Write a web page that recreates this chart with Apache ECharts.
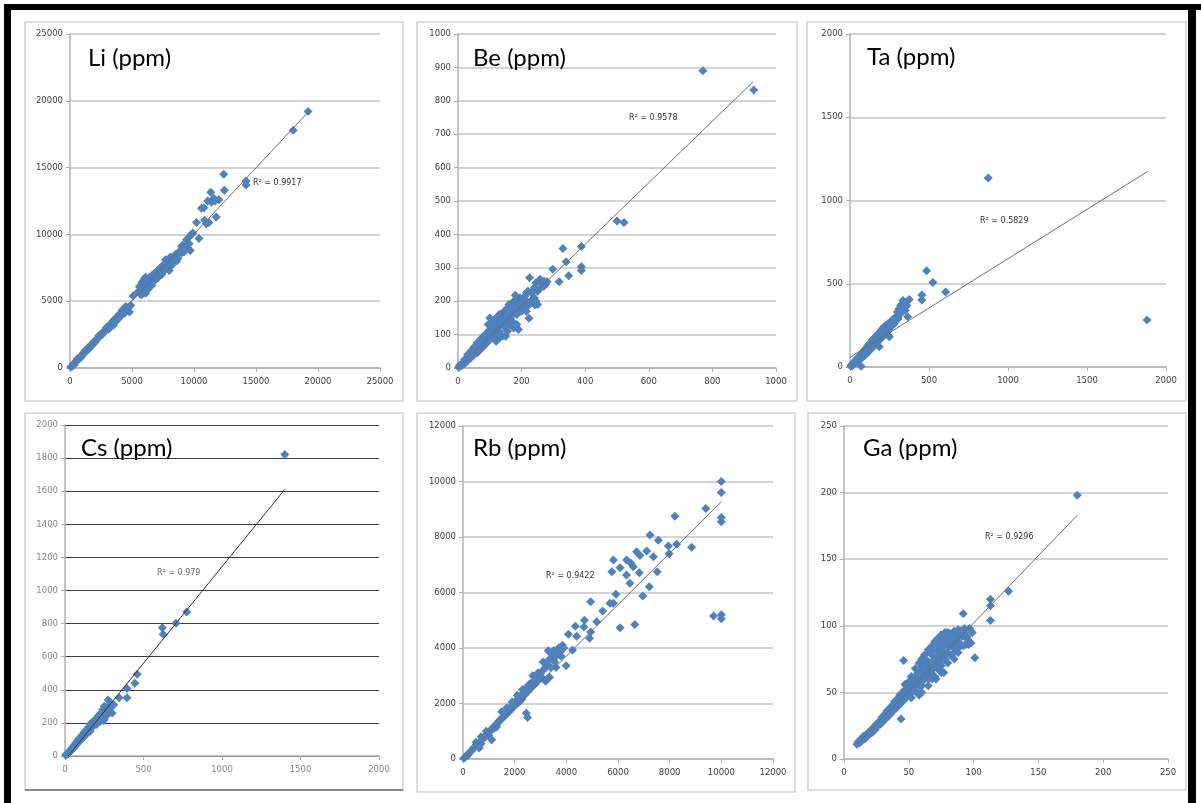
<!DOCTYPE html>
<html>
<head>
<meta charset="utf-8">
<script src="https://cdn.jsdelivr.net/npm/echarts@6/dist/echarts.min.js"></script>
<style>
  html, body { margin: 0; padding: 0; background: #fff; }
  #chart { width: 1201px; height: 803px; }
</style>
</head>
<body>
<div id="chart"></div>
<script>
const liPoints = [[50,80],[150,120],[250,300],[400,350],[500,550],[650,600],[800,850],[950,900],[1100,1150],[1250,1200],[1400,1450],[1500,1400],[1650,1700],[1800,1750],[1950,2000],[2100,2050],[2250,2200],[2400,2350],[2550,2600],[2700,2650],[2850,2800],[3000,3050],[3100,2900],[3250,3300],[3400,3350],[3500,3200],[3600,3650],[3700,3500],[3800,3850],[3900,3700],[4000,4050],[4100,3900],[4300,4400],[4500,4600],[4700,4500],[4800,4200],[4900,4700],[5100,5400],
  [300,200],[600,700],[900,800],[1200,1300],[1500,1550],[1700,1600],[2000,1900],[2300,2400],[2600,2500],[2900,3000],[3200,3100],[3500,3550],[3800,3600],[4200,4300],[4400,4100],[4600,4500],
  [5500,5700],[5600,6100],[5700,5500],[5800,6400],[5900,6000],[6000,6700],[6100,5600],[6200,6500],[6300,5900],[6400,6800],[6500,6300],[6600,6900],[6700,6500],[6800,7100],[6900,6600],[7000,7200],[7100,6800],[7200,7000],[7300,7500],[7400,7200],[7500,7700],[7600,7300],[7700,8100],[7800,7500],[7900,7900],[8000,7300],[8100,8300],[8200,7700],[8400,8000],[8500,8500],[8700,8200],
  [5600,5800],[5800,5500],[6000,6200],[6200,6000],[6400,6600],[6600,6200],[6800,6800],[7000,6700],[7200,7400],[7400,7000],[7600,7700],[7800,7800],[8000,8100],[8200,8200],[8400,8400],[8600,8000],[8800,8700],[9000,9100],[9200,8700],[9500,9000],[9600,9800],[6500,6600],[6900,7000],[7300,7300],[7700,7400],[5900,6500],[6100,6800],[5700,6000],
  [9000,8600],[9100,9200],[9300,8900],[9400,9600],[9600,9300],[9700,8800],[9800,10000],[9900,10100],[10200,10900],[10400,9700],[10600,11950],[10800,12000],[10850,11050],[11000,10800],[11100,12500],[11200,10900],[11350,13150],[11400,12400],[11600,12700],[11700,12500],[11800,11300],[12000,12600],[12400,14500],[12450,13300],[14200,14000],[14200,13700],[18000,17800],[19200,19200]];
const liTrend = [[0,100],[19350,19300]];

const bePoints = [[2,2],[5,8],[10,6],[15,15],[20,12],[25,25],[30,22],[35,35],[40,30],[45,48],[50,40],[55,55],[60,45],[65,70],[70,60],[75,80],[80,65],[85,90],[90,75],[95,110],[100,85],[105,120],[110,95],[115,130],[120,100],[125,140],[130,110],[135,150],[140,95],[145,125],[150,160],[155,135],[160,190],[165,150],[170,175],[175,200],[180,218],[185,160],[190,115],[195,185],[200,170],[205,205],[210,180],[215,225],[220,190],[225,270],[230,200],[235,230],[240,210],[242,189],[245,255],[250,190],[258,266],[265,250],[270,245],[280,258],[298,296],[318,258],[330,358],[340,318],[348,276],[388,364],[388,303],[388,292],[500,440],[522,436],[770,890],[930,832],
  [110,140],[120,150],[130,90],[140,160],[150,120],[160,130],[170,140],[120,80],[100,130],[90,100],[135,100],[155,180],[175,120],[185,130],[150,95],[223,149],
  [95,130],[100,150],[105,100],[110,120],[115,145],[120,110],[125,95],[130,160],[135,130],[140,140],[145,170],[150,140],[155,110],[160,150],[165,180],[170,160],[175,170],[180,190],[185,200],[190,175],[195,210],[200,195],[205,180],[210,215],[215,200],[220,230],[230,225],[235,195],[240,240],[250,230],[255,260],[260,240],[270,260],[275,250],[85,70],[80,95],[75,60],[70,85],[65,50],[60,75],[55,45],[50,62],[45,38],[40,50],[30,40],[20,25],[100,100],[110,110],[120,120],[130,130],[140,130],[160,170],[190,190],[215,170],[225,190],[245,200]];
const beTrend = [[0,2],[928,857]];

const taPoints = [[5,5],[10,15],[15,8],[20,25],[25,18],[30,35],[35,25],[40,45],[45,30],[50,55],[55,40],[60,65],[65,45],[70,5],[70,78],[75,55],[80,90],[85,65],[90,100],[95,70],[100,110],[105,80],[110,125],[115,90],[120,135],[125,100],[130,145],[135,110],[140,160],[145,120],[150,170],[155,130],[160,180],[165,140],[170,190],[175,150],[180,200],[185,122],[190,210],[195,170],[200,225],[205,180],[210,235],[215,190],[220,245],[225,200],[230,250],[235,210],[240,260],[249,182],[250,230],[255,270],[265,250],[270,285],[280,260],[290,300],[300,330],[305,290],[310,350],[320,370],[330,380],[335,400],[340,360],[350,340],[355,390],[365,302],[375,405],[455,432],[455,402],[485,578],[525,508],[605,450],[875,1135],[1880,282],
  [20,15],[40,35],[60,50],[80,70],[100,90],[120,115],[140,130],[160,150],[180,170],[200,190],[220,215],[240,230],[260,250],[280,280],[300,300],[320,320],[330,340],[150,150],[170,170],[190,185],[210,200],[230,225],[250,250],[270,265],[290,280],[310,330],[345,380],[360,370]];
const taTrend = [[0,58],[1885,1175]];

const csPoints = [[5,5],[10,12],[15,10],[20,20],[25,22],[30,30],[35,28],[40,42],[45,40],[50,55],[55,50],[60,68],[65,60],[70,80],[75,72],[80,92],[85,85],[90,105],[95,95],[100,115],[105,105],[110,125],[115,118],[120,140],[125,130],[130,150],[135,140],[140,160],[145,155],[150,175],[155,165],[160,190],[165,180],[170,200],[175,195],[180,210],[185,200],[190,215],[200,190],[205,225],[210,240],[215,230],[220,250],[225,210],[230,260],[240,280],[245,215],[250,300],[255,240],[260,290],[265,270],[275,338],[280,300],[290,320],[300,260],[310,310],[345,352],[395,408],[395,352],[445,440],[460,494],[620,775],[625,735],[707,802],[775,870],[1400,1822],
  [20,15],[40,35],[60,55],[80,75],[100,95],[120,115],[140,135],[160,150],[180,180],[200,210],[220,220],[240,230],[260,260],[280,280],[250,220],[230,240],[170,190],[190,200],[210,220],[285,310],[300,300],[270,250]];
const csTrend = [[20,0],[1400,1611]];

const rbPoints = [[30,30],[80,60],[130,110],[180,170],[230,200],[280,260],[330,300],[380,360],[430,420],[480,450],[530,500],[580,560],[630,400],[680,640],[730,700],[780,720],[830,800],[880,850],[930,880],[980,940],[1030,1000],[1080,1050],[1110,690],[1130,1090],[1180,1140],[1230,1200],[1280,1220],[1330,1300],[1380,1360],[1430,1380],[1480,1460],[1530,1500],[1580,1520],[1630,1640],[1680,1600],[1730,1720],[1780,1700],[1830,1850],[1880,1800],[1930,1960],[1980,1900],[2030,2080],[2080,1980],[2130,2150],[2180,2050],[2230,2250],[2280,2150],[2330,2380],[2380,2300],[2450,1650],[2500,1500],[2430,2500],[2480,2600],[2530,2450],[2580,2700],[2630,2550],[2700,2780],[2800,2900],[2900,2850],[3000,3100],[3050,2950],[3100,3200],[3200,2800],[3250,3400],[3300,3550],[3350,2950],[3400,3800],[3450,3600],[3500,3900],[3550,3500],[3600,3300],[3650,3750],[3700,4000],[3750,3850],[3800,3950],[3850,4100],[3990,3360],[4080,4500],[4240,3930],[4350,4780],[4400,4420],[4680,4760],[4700,5000],[4900,4350],[4940,4580],[4940,5670],[5175,4950],[5408,5334],[5690,5610],[5820,5610],[5920,5935],[5820,7170],[5760,6750],[6080,6890],[6080,4730],[6330,6630],[6460,6330],[6335,7170],[6500,7050],[6590,6930],[6650,4850],[6720,7470],[6825,6715],[6850,7330],[6955,5875],[7110,7500],[7210,6210],[7240,8070],[7370,7290],[7520,6750],[7560,7880],[7950,7680],[7980,7400],[8200,8750],[8270,7740],[8850,7630],[9400,9030],[9700,5150],[10000,10000],[10000,9600],[10000,8700],[10000,8550],[10000,5200],[10000,5050],
  [200,150],[400,380],[600,550],[800,760],[1000,950],[1200,1100],[1400,1350],[1600,1550],[1800,1750],[2000,1950],[2200,2200],[2400,2350],[2600,2650],[2800,2700],[3000,2900],[3200,3300],[3400,3300],[3600,3700],[3800,3700],[3300,3900],[3500,3700],[3700,3800],[3900,4000],[2700,3000],[2900,3100],[3100,3500],[1500,1700],[1700,1850],[1900,2050],[2100,2300],[2300,2500],[900,1000],[700,800],[500,600],[700,550],[1000,850],[1300,1150]];
const rbTrend = [[0,0],[10000,9270]];

const gaPoints = [[10,11],[11,13],[12,12],[13,15],[14,14],[15,17],[16,15],[17,18],[18,17],[19,20],[20,19],[21,22],[22,20],[23,24],[24,22],[25,26],[26,25],[27,28],[28,26],[29,31],[30,28],[31,33],[32,30],[33,36],[34,32],[35,38],[36,34],[37,40],[38,36],[39,43],[40,38],[41,45],[42,40],[43,48],[44,30],[44,42],[45,50],[46,74],[46,44],[47,52],[48,46],[49,55],[50,48],[51,57],[52,50],[53,60],[54,52],[55,62],[56,50],[57,65],[58,55],[59,68],[60,58],[61,72],[62,60],[63,75],[64,62],[65,70],[66,80],[67,65],[68,78],[69,68],[70,82],[71,60],[72,75],[73,85],[74,72],[75,88],[76,78],[77,65],[78,90],[79,80],[80,92],[81,84],[82,94],[83,86],[84,93],[85,80],[86,95],[87,88],[88,92],[89,85],[90,96],[92,109],[93,98],[94,86],[95,90],[97,98],[98,87],[99,95],[101,76],[113,120],[113,115],[113,104],[127,126],[180,198],
  [55,55],[60,65],[65,60],[70,75],[75,70],[80,85],[85,88],[62,72],[58,48],[68,60],[72,68],[78,75],[82,78],[66,72],[74,80],[50,52],[54,58],[60,55],[48,50],[52,46],[64,68],[76,84],[84,84],[88,88],[90,85],[70,70],
  [55,68],[58,72],[60,75],[62,78],[65,82],[68,85],[70,88],[72,90],[75,93],[78,95],[80,95],[85,96],[88,97],[52,62],[50,58],[47,56],[60,50],[65,55],[70,62],[75,65],[80,72],[85,75],[88,80],[92,85],[95,92],[96,86],
  [57,58],[63,65],[67,70],[71,72],[73,78],[77,80],[79,86],[83,90],[86,91],[81,88],[69,74],[61,62],[59,60],[53,54],[56,57],[64,66],[76,76],[87,84],[91,92],[93,95],[33,34],[36,38],[38,40],[40,42],[42,45],[44,47],[46,48],[30,31],[27,27],[25,24]];
const gaTrend = [[10,11],[180,183]];

const titles = ['Li (ppm)', 'Be (ppm)', 'Ta (ppm)', 'Cs (ppm)', 'Rb (ppm)', 'Ga (ppm)'];
const r2Labels = ['R\u00b2 = 0.9917', 'R\u00b2 = 0.9578', 'R\u00b2 = 0.5829', 'R\u00b2 = 0.979', 'R\u00b2 = 0.9422', 'R\u00b2 = 0.9296'];
const axisMax = [25000, 1000, 2000, 2000, 12000, 250];
const xStep = [5000, 200, 500, 500, 2000, 50];
const yStep = [5000, 100, 500, 200, 2000, 50];

// ---- layout (pixels) ----
const panelData = [liPoints, bePoints, taPoints, csPoints, rbPoints, gaPoints];
const trendData = [liTrend, beTrend, taTrend, csTrend, rbTrend, gaTrend];
const gridBox = [
  {left: 70, top: 34, width: 310, height: 334},
  {left: 458, top: 34, width: 318, height: 334},
  {left: 850, top: 34, width: 316, height: 333},
  {left: 65, top: 425, width: 314, height: 331},
  {left: 463, top: 426, width: 310, height: 333},
  {left: 844, top: 426, width: 324, height: 333}
];
const frames = [
  [25, 22, 378, 379], [417, 22, 380, 379], [807, 22, 379, 379],
  [25, 413, 378, 377], [417, 413, 378, 379], [808, 413, 378, 377]
];
const titlePos = [[88, 58], [473, 58], [867, 57], [81, 448], [473, 448], [863, 448]];
const r2Pos = [[253, 183], [629, 118], [980, 221], [157, 573], [546, 576], [985, 537]];

const blue = '#4f81bd';
const plain = v => String(v);

let grids = [], xAxes = [], yAxes = [], series = [], graphics = [];

// black outer frame
graphics.push({type: 'rect', shape: {x: 4, y: 4, width: 1197, height: 6}, style: {fill: '#000'}, z: 10});
graphics.push({type: 'rect', shape: {x: 4, y: 4, width: 7, height: 799}, style: {fill: '#000'}, z: 10});
graphics.push({type: 'rect', shape: {x: 1188, y: 4, width: 8, height: 799}, style: {fill: '#000'}, z: 10});

for (let i = 0; i < 6; i++) {
  let isCs = (i === 3);
  let f = frames[i];
  graphics.push({type: 'rect', shape: {x: f[0], y: f[1], width: f[2], height: f[3]},
    style: {fill: '#fff', stroke: '#d4d4d4', lineWidth: 1.5}, z: -10});
  if (isCs) {
    graphics.push({type: 'line', shape: {x1: f[0], y1: f[1] + f[3], x2: f[0] + f[2], y2: f[1] + f[3]},
      style: {stroke: '#8a8a8a', lineWidth: 2}, z: -9});
  }
  graphics.push({type: 'text', x: titlePos[i][0], y: titlePos[i][1],
    style: {text: titles[i], font: '24px Lato', fill: '#000', textVerticalAlign: 'middle'}, z: 5});
  graphics.push({type: 'text', x: r2Pos[i][0], y: r2Pos[i][1],
    style: {text: r2Labels[i], font: '8px "DejaVu Sans"', fill: isCs ? '#666' : '#333', textVerticalAlign: 'middle'}, z: 5});

  grids.push(Object.assign({containLabel: false}, gridBox[i]));
  let labelStyle = {fontSize: 8.5, fontFamily: 'DejaVu Sans', color: isCs ? '#888' : '#404040', formatter: plain};
  xAxes.push({
    type: 'value', gridIndex: i, min: 0, max: axisMax[i], interval: xStep[i],
    axisLine: {show: true, lineStyle: {color: '#b0b0b0', width: 1.5}},
    axisTick: {show: true, inside: false, length: 4, lineStyle: {color: '#b0b0b0'}},
    axisLabel: Object.assign({margin: 9}, labelStyle),
    splitLine: {show: false}
  });
  yAxes.push({
    type: 'value', gridIndex: i, min: 0, max: axisMax[i], interval: yStep[i],
    axisLine: {show: true, lineStyle: {color: '#b0b0b0', width: 1.5}},
    axisTick: {show: true, inside: false, length: 4, lineStyle: {color: '#b0b0b0'}},
    axisLabel: Object.assign({margin: 7}, labelStyle),
    splitLine: {show: true, lineStyle: isCs ? {color: '#3c3c3c', width: 1.2} : {color: '#c4c4c4', width: 1.5}}
  });
  series.push({
    type: 'scatter', xAxisIndex: i, yAxisIndex: i, data: panelData[i],
    symbol: 'diamond', symbolSize: 9, itemStyle: {color: blue, opacity: 1}, silent: true, z: 2
  });
  series.push({
    type: 'line', xAxisIndex: i, yAxisIndex: i, data: trendData[i], symbol: 'none',
    lineStyle: {color: isCs ? '#333' : '#6e6e6e', width: 1}, silent: true, z: 3, animation: false
  });
}

let chart = echarts.init(document.getElementById('chart'));
chart.setOption({
  animation: false,
  backgroundColor: '#fff',
  grid: grids,
  xAxis: xAxes,
  yAxis: yAxes,
  series: series,
  graphic: graphics
});
</script>
</body>
</html>
